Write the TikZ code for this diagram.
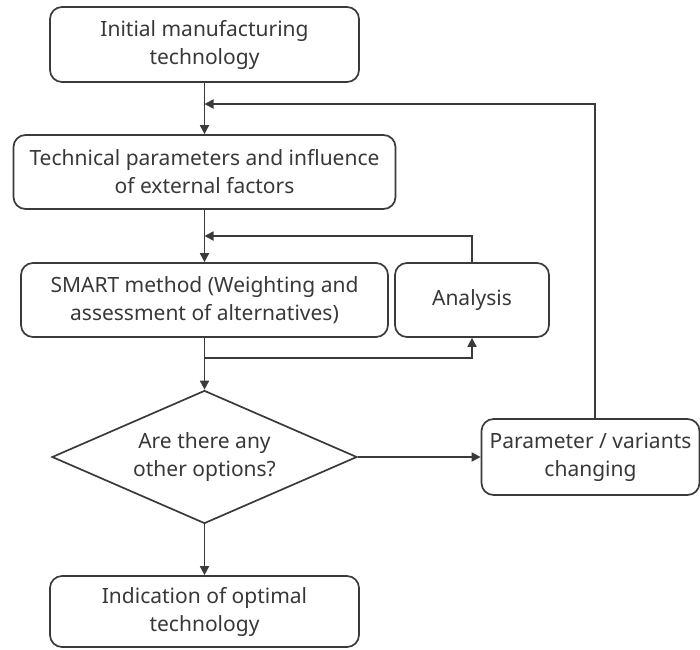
\documentclass[tikz,border=0pt]{standalone}
\usepackage{fontspec}
\setmainfont{Noto Sans}
\usetikzlibrary{shapes.geometric,arrows.meta}

\definecolor{linegray}{HTML}{3A3A3A}
\definecolor{textgray}{HTML}{383838}

\tikzset{
	box/.style={draw=linegray,line width=0.85pt,rounded corners=6pt,align=center,inner sep=0pt,text=textgray,font=\fontsize{10.5}{14}\selectfont},
	decision/.style={draw=linegray,line width=0.85pt,diamond,aspect=2.3,align=center,inner sep=0pt,text=textgray,font=\fontsize{10.5}{14}\selectfont,minimum width=152.5pt,minimum height=66.5pt},
	flow/.style={draw=linegray,line width=0.85pt,-{Triangle[length=4.5pt,width=4.5pt]}}
}

\begin{document}
\begin{tikzpicture}[x=0.5pt,y=-0.5pt]
	\useasboundingbox (0,0) rectangle (700,649);
	
	\node[box,minimum width=154.5pt,minimum height=37.5pt] (init) at (204.5,44.5) {Initial manufacturing\\technology};
	\node[box,minimum width=191pt,minimum height=37pt] (tech) at (204.5,172) {Technical parameters and influence\\of external factors};
	\node[box,minimum width=183.5pt,minimum height=37pt] (smart) at (204.5,300) {SMART method (Weighting and\\assessment of alternatives)};
	\node[box,minimum width=77pt,minimum height=37pt] (anal) at (472,300) {Analysis};
	\node[decision] (opts) at (204.5,457) {Are there any\\other options?};
	\node[box,minimum width=109pt,minimum height=38pt] (param) at (590.5,457) {Parameter / variants\\changing};
	\node[box,minimum width=154.5pt,minimum height=35.5pt] (opt) at (204.5,611.5) {Indication of optimal\\technology};
	
	\coordinate (back1) at (204.5,104);
	\coordinate (back2) at (204.5,236);
	\coordinate (split) at (204.5,358);
	
	\draw[flow] (init) -- (tech);
	\draw[flow] ([xshift=2.25pt]param.north) |- (back1);
	\draw[flow] (tech) -- (smart);
	\draw[flow] (anal.north) |- (back2);
	\draw[flow] (smart) -- (opts);
	\draw[flow] (split) -| (anal.south);
	\draw[flow] (opts) -- (param);
	\draw[flow] (opts) -- (opt);
\end{tikzpicture}
\end{document}
